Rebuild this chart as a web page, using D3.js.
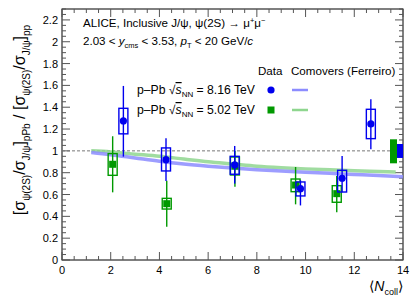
<!DOCTYPE html>
<html><head><meta charset="utf-8">
<script src="https://cdn.jsdelivr.net/npm/d3@7"></script>
<style>body{margin:0;background:#fff}svg{display:block;font-family:"Liberation Sans",Arial,sans-serif}</style>
</head><body><svg id="c" width="415" height="300"></svg>
<script>
// Data: p-Pb 8.16 TeV (blue)
const ncoll816 = [2.52, 4.27, 7.09, 9.79, 11.5, 12.68];
const ratio816 = [1.274, 0.919, 0.871, 0.654, 0.749, 1.247];
const statLo816 = [0.947, 0.724, 0.70, 0.50, 0.62, 1.015];
const statHi816 = [1.595, 1.115, 1.045, 0.73, 0.953, 1.473];
const sysLo816 = [1.156, 0.816, 0.786, 0.587, 0.623, 1.112];
const sysHi816 = [1.39, 1.027, 0.95, 0.715, 0.822, 1.381];
// Data: p-Pb 5.02 TeV (green)
const ncoll502 = [2.08, 4.3, 7.1, 9.59, 11.28];
const ratio502 = [0.877, 0.516, 0.86, 0.687, 0.608];
const statLo502 = [0.62, 0.305, 0.672, 0.51, 0.437];
const statHi502 = [1.134, 0.727, 1.0, 0.852, 0.77];
const sysLo502 = [0.776, 0.467, 0.779, 0.626, 0.529];
const sysHi502 = [0.975, 0.565, 0.944, 0.742, 0.681];
// Comovers model curves
const comX816 = [1.2, 2, 3, 4, 5, 6, 7, 8, 9, 10, 11, 12, 13, 14];
const comY816 = [0.985, 0.965, 0.935, 0.905, 0.88, 0.86, 0.843, 0.828, 0.815, 0.804, 0.794, 0.784, 0.774, 0.762];
const comX502 = [1.2, 2, 3, 4, 5, 6, 7, 8, 9, 10, 11, 12, 13, 13.7];
const comY502 = [1.0, 0.99, 0.97, 0.95, 0.925, 0.9, 0.88, 0.86, 0.846, 0.835, 0.826, 0.818, 0.811, 0.806];
// Global uncertainties
const globLo = [0.886, 0.935];
const globHi = [1.106, 1.063];
const xTicks = [0, 2, 4, 6, 8, 10, 12, 14];
const yTicks = [0, 0.2, 0.4, 0.6, 0.8, 1, 1.2, 1.4, 1.6, 1.8, 2, 2.2];

const BLUE = "#0000ee", GREEN = "#009900";
const svg = d3.select("#c");
const L = 62, R = 403, T = 9, B = 260;
const x = d3.scaleLinear().domain([0, 14]).range([L, R]);
const y = d3.scaleLinear().domain([0, 2.3]).range([B, T]);

// frame
svg.append("rect").attr("x", L).attr("y", T).attr("width", R - L).attr("height", B - T)
  .attr("fill", "none").attr("stroke", "#000").attr("stroke-width", 1);

// ticks (ROOT style, inside, all four sides)
const xMinor = d3.range(0, 14.001, 0.5);
const yMinor = d3.range(0, 2.3001, 0.05);
const tickG = svg.append("g").attr("stroke", "#555").attr("stroke-width", 1);
xMinor.forEach(v => {
  const major = Math.abs(v / 2 - Math.round(v / 2)) < 1e-6;
  const len = major ? 8 : 4;
  tickG.append("line").attr("x1", x(v)).attr("x2", x(v)).attr("y1", B).attr("y2", B - len);
  tickG.append("line").attr("x1", x(v)).attr("x2", x(v)).attr("y1", T).attr("y2", T + len);
});
yMinor.forEach(v => {
  const major = Math.abs(v / 0.2 - Math.round(v / 0.2)) < 1e-6;
  const len = major ? 8 : 4;
  tickG.append("line").attr("y1", y(v)).attr("y2", y(v)).attr("x1", L).attr("x2", L + len);
  tickG.append("line").attr("y1", y(v)).attr("y2", y(v)).attr("x1", R).attr("x2", R - len);
});
svg.append("g").selectAll("text").data(xTicks).join("text")
  .attr("x", d => x(d)).attr("y", B + 14).attr("text-anchor", "middle")
  .attr("font-size", 11).text(d => d);
svg.append("g").selectAll("text").data(yTicks).join("text")
  .attr("x", L - 4).attr("y", d => y(d) + 4).attr("text-anchor", "end")
  .attr("font-size", 11).text(d => d3.format("~g")(d));

// dashed line at 1
svg.append("line").attr("x1", x(0)).attr("x2", x(14)).attr("y1", y(1)).attr("y2", y(1))
  .attr("stroke", "#777").attr("stroke-dasharray", "3,2").attr("stroke-width", 1);

// model curves
const line = d3.line().x(d => x(d[0])).y(d => y(d[1])).curve(d3.curveMonotoneX);
svg.append("path").datum(comX502.map((v, i) => [v, comY502[i]])).attr("d", line)
  .attr("fill", "none").attr("stroke", "#8fd68f").attr("stroke-width", 3.5).attr("opacity", 0.85);
svg.append("path").datum(comX816.map((v, i) => [v, comY816[i]])).attr("d", line)
  .attr("fill", "none").attr("stroke", "#8c8cff").attr("stroke-width", 3.5).attr("opacity", 0.85);

// global uncertainty boxes
svg.append("rect").attr("x", x(14) - 13).attr("width", 7).attr("y", y(globHi[0]))
  .attr("height", y(globLo[0]) - y(globHi[0])).attr("fill", GREEN);
svg.append("rect").attr("x", x(14) - 6).attr("width", 6).attr("y", y(globHi[1]))
  .attr("height", y(globLo[1]) - y(globHi[1])).attr("fill", BLUE);

function drawSeries(xs, ys, sl, sh, bl, bh, color, marker, boxW) {
  const g = svg.append("g");
  xs.forEach((v, i) => {
    g.append("rect").attr("x", x(v) - boxW / 2).attr("width", boxW)
      .attr("y", y(bh[i])).attr("height", y(bl[i]) - y(bh[i]))
      .attr("fill", "none").attr("stroke", color).attr("stroke-width", 1.4);
    g.append("line").attr("x1", x(v)).attr("x2", x(v)).attr("y1", y(sh[i])).attr("y2", y(sl[i]))
      .attr("stroke", color).attr("stroke-width", 1.4);
    if (marker === "circle") {
      g.append("circle").attr("cx", x(v)).attr("cy", y(ys[i])).attr("r", 3.6).attr("fill", color);
    } else {
      g.append("rect").attr("x", x(v) - 3.5).attr("y", y(ys[i]) - 3.5).attr("width", 7).attr("height", 7).attr("fill", color);
    }
  });
}
drawSeries(ncoll502, ratio502, statLo502, statHi502, sysLo502, sysHi502, GREEN, "square", 9);
drawSeries(ncoll816, ratio816, statLo816, statHi816, sysLo816, sysHi816, BLUE, "circle", 9);

// header texts
const t1 = svg.append("text").attr("x", 83).attr("y", 27).attr("font-size", 11.6);
t1.append("tspan").text("ALICE, Inclusive J/ψ, ψ(2S) → μ");
t1.append("tspan").attr("dy", -4).attr("font-size", 7.5).text("+");
t1.append("tspan").attr("dy", 4).text("μ");
t1.append("tspan").attr("dy", -4).attr("font-size", 7.5).text("−");
const t2 = svg.append("text").attr("x", 83).attr("y", 45).attr("font-size", 11.6);
t2.append("tspan").text("2.03 < ");
t2.append("tspan").attr("font-style", "italic").text("y");
t2.append("tspan").attr("dy", 3).attr("font-size", 7.5).text("cms");
t2.append("tspan").attr("dy", -3).text(" < 3.53, ");
t2.append("tspan").attr("font-style", "italic").text("p");
t2.append("tspan").attr("dy", 3).attr("font-size", 7.5).text("T");
t2.append("tspan").attr("dy", -3).text(" < 20 GeV/");
t2.append("tspan").attr("font-style", "italic").text("c");

// legend
svg.append("text").attr("x", 258).attr("y", 75).attr("font-size", 11.6).text("Data");
svg.append("text").attr("x", 291).attr("y", 75).attr("font-size", 11.6).text("Comovers (Ferreiro)");
function legRow(yy, energy, color, marker, lineColor) {
  const t = svg.append("text").attr("x", 137).attr("y", yy + 4).attr("font-size", 12.2);
  t.append("tspan").text("p–Pb √");
  t.append("tspan").attr("font-style", "italic").attr("text-decoration", "overline").text("s");
  t.append("tspan").attr("dy", 3).attr("font-size", 8).text("NN");
  t.append("tspan").attr("dy", -3).text(" = " + energy + " TeV");
  if (marker === "circle") svg.append("circle").attr("cx", 271).attr("cy", yy).attr("r", 3.6).attr("fill", color);
  else svg.append("rect").attr("x", 267.5).attr("y", yy - 3.5).attr("width", 7).attr("height", 7).attr("fill", color);
  svg.append("line").attr("x1", 292).attr("x2", 308).attr("y1", yy).attr("y2", yy)
    .attr("stroke", lineColor).attr("stroke-width", 2.5);
}
legRow(90, "8.16", BLUE, "circle", "#8c8cff");
legRow(110, "5.02", GREEN, "square", "#8fd68f");

// x label
const xl = svg.append("text").attr("x", 403).attr("y", 291).attr("text-anchor", "end").attr("font-size", 14);
xl.append("tspan").text("⟨");
xl.append("tspan").attr("font-style", "italic").text("N");
xl.append("tspan").attr("dy", 4).attr("font-size", 9).text("coll");
xl.append("tspan").attr("dy", -4).text("⟩");

// y label
const yl = svg.append("text").attr("transform", "translate(25,120) rotate(-90)")
  .attr("text-anchor", "middle").attr("font-size", 16);
yl.append("tspan").text("[σ");
yl.append("tspan").attr("dy", 5).attr("font-size", 10).text("ψ(2S)");
yl.append("tspan").attr("dy", -5).text("/σ");
yl.append("tspan").attr("dy", 5).attr("font-size", 10).text("J/ψ");
yl.append("tspan").attr("dy", -5).text("]");
yl.append("tspan").attr("dy", 5).attr("font-size", 10).text("pPb");
yl.append("tspan").attr("dy", -5).text(" / [σ");
yl.append("tspan").attr("dy", 5).attr("font-size", 10).text("ψ(2S)");
yl.append("tspan").attr("dy", -5).text("/σ");
yl.append("tspan").attr("dy", 5).attr("font-size", 10).text("J/ψ");
yl.append("tspan").attr("dy", -5).text("]");
yl.append("tspan").attr("dy", 5).attr("font-size", 10).text("pp");
</script></body></html>
